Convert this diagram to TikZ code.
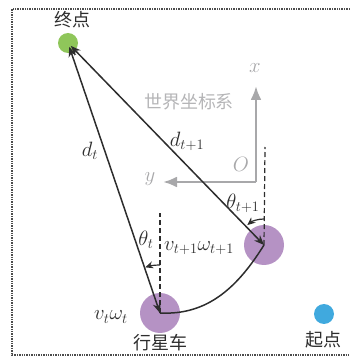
\documentclass[tikz,border=0pt]{standalone}
\usepackage{amsmath}
\usepackage{fontspec}
\newfontfamily\cjk{Noto Sans CJK SC}
\usetikzlibrary{arrows.meta}

\definecolor{verdeMeta}{RGB}{143,198,90}
\definecolor{moradoRover}{RGB}{181,146,196}
\definecolor{azulInicio}{RGB}{64,169,222}
\definecolor{grisEjes}{RGB}{168,168,170}
\definecolor{negroLinea}{RGB}{45,45,45}

\begin{document}
\begin{tikzpicture}[
    x=1pt, y=1pt,
    % --- NODOS: puntos y vehiculos ---
    meta/.style={circle, fill=verdeMeta, minimum size=20pt, inner sep=0pt},
    rover/.style={circle, fill=moradoRover, minimum size=40pt, inner sep=0pt},
    inicio/.style={circle, fill=azulInicio, minimum size=20pt, inner sep=0pt},
    etiqueta/.style={font=\fontsize{18}{20}\selectfont\cjk, text=negroLinea, inner sep=0pt},
    simbolo/.style={font=\fontsize{22}{24}\selectfont, text=negroLinea, inner sep=0pt},
    % --- ARISTAS ---
    flechaDist/.style={{Stealth[length=10pt,width=8pt]}-{Stealth[length=10pt,width=8pt]}, color=negroLinea, line width=1.5pt},
    flechaAng/.style={-{Stealth[length=8pt,width=7pt]}, color=negroLinea, line width=1.2pt},
    trayecto/.style={color=negroLinea, line width=1.5pt},
    guia/.style={dashed, dash pattern=on 5pt off 3pt, color=negroLinea, line width=1.2pt},
    eje/.style={-{Latex[length=14pt,width=11pt]}, color=grisEjes, line width=2.6pt},
    textoEje/.style={font=\fontsize{22}{24}\selectfont, text=grisEjes, inner sep=0pt}
]
    \useasboundingbox (0,0) rectangle (350,357);

    % --- MARCO ---
    \draw[dash pattern=on 1.4pt off 1pt, color=negroLinea!85, line width=1.2pt]
        (362,348) -- (12,348) -- (12,2) -- (362,2);

    % --- SISTEMA DE COORDENADAS ---
    \coordinate (O)  at (256,175);
    \coordinate (xT) at (256,271);
    \coordinate (yT) at (163,175);
    \draw[eje] (O) -- (xT);
    \draw[eje] (O) -- (yT);
    \node[textoEje] (xL) at (255,289) {$x$};
    \node[textoEje] (yL) at (150,178) {$y$};
    \node[textoEje] (oL) at (241,193) {$O$};
    \node[etiqueta, text=grisEjes!85] (mundo) at (189,255) {世界坐标系};

    % --- PUNTOS ---
    \node[meta]   (fin) at (68,314) {};
    \node[rover]  (rA)  at (160,44) {};
    \node[rover]  (rB)  at (264,112) {};
    \node[inicio] (ini) at (324,43) {};

    \node[etiqueta] (finL) at (72,337) {终点};
    \node[etiqueta] (rAL)  at (160,14) {行星车};
    \node[etiqueta] (iniL) at (323,17) {起点};

    % --- LINEAS GUIA ---
    \coordinate (gA) at (160,144);
    \coordinate (gB) at (265,210);
    \draw[guia] (rA.center) -- (gA);
    \draw[guia] (rB.center) -- (gB);

    % --- DISTANCIAS ---
    \draw[flechaDist, shorten >=4pt] (rA.center) -- (fin.center);
    \draw[flechaDist, shorten >=4pt] (rB.center) -- (fin.center);
    \node[simbolo] (dA) at (90,206) {$d_t$};
    \node[simbolo] (dB) at (187,216) {$d_{t+1}$};

    % --- TRAYECTORIA ---
    \draw[trayecto] (rA.center) to[out=-3, in=238] (rB.center);

    % --- ANGULOS ---
    \draw[flechaAng] ([shift={(90:48)}]rA.center) arc[start angle=90, end angle=108, radius=48];
    \draw[flechaAng] ([shift={(90:26)}]rB.center) arc[start angle=90, end angle=130, radius=26];
    \node[simbolo] (thA) at (146,117) {$\theta_t$};
    \node[simbolo] (thB) at (243,154) {$\theta_{t+1}$};

    % --- VELOCIDADES ---
    \node[simbolo] (vB) at (199,109) {$v_{t+1}\omega_{t+1}$};
    \node[simbolo] (vA) at (111,40)  {$v_t\omega_t$};

\end{tikzpicture}
\end{document}
